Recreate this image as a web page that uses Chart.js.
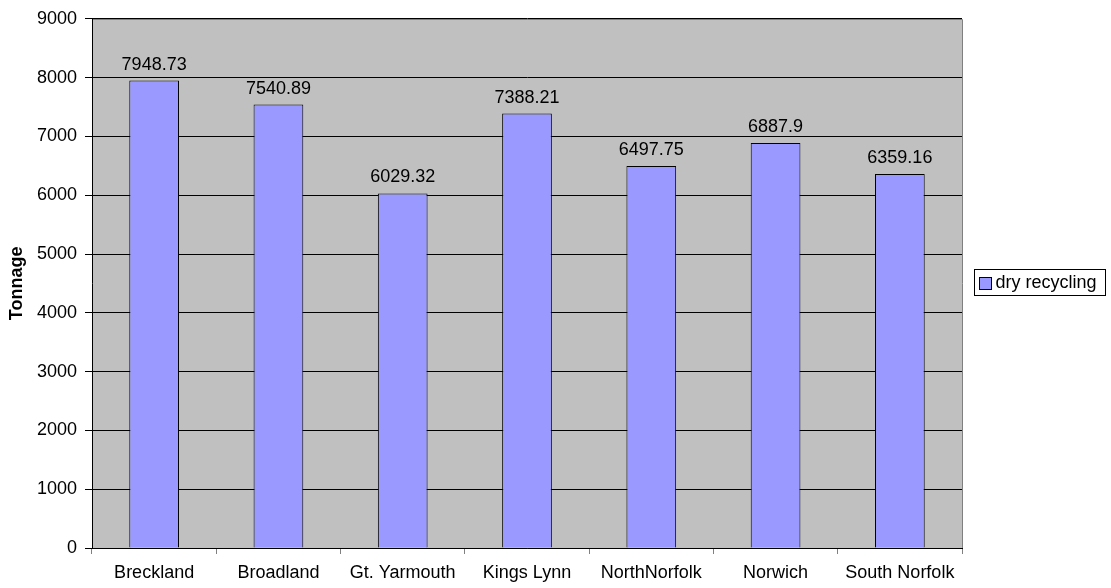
<!DOCTYPE html>
<html>
<head>
<meta charset="utf-8">
<title>Dry recycling by district</title>
<script src="https://cdn.jsdelivr.net/npm/chart.js@4/dist/chart.umd.min.js"></script>
<style>
    html, body { margin: 0; padding: 0; background: #fff; }
    canvas { display: block; }
</style>
</head>
<body>
<canvas id="recyclingChart" width="1111" height="588"></canvas>
<script>
const districts = ["Breckland", "Broadland", "Gt. Yarmouth", "Kings Lynn", "NorthNorfolk", "Norwich", "South Norfolk"];
const dryRecycling = [7948.73, 7540.89, 6029.32, 7388.21, 6497.75, 6887.9, 6359.16];
const seriesName = "dry recycling";
const yAxisTitle = "Tonnage";
const yMin = 0;
const yMax = 9000;
const yStep = 1000;

Chart.defaults.font.family = "'Liberation Sans', Arial, sans-serif";
Chart.defaults.font.size = 18;
Chart.defaults.color = '#000';

// grey plot area with a grey frame on top and right
const plotArea = {
    id: 'plotArea',
    beforeDraw(chart) {
        const {ctx, chartArea: a} = chart;
        ctx.save();
        ctx.fillStyle = '#c0c0c0';
        ctx.fillRect(a.left, a.top, a.right - a.left, a.bottom - a.top);
        ctx.restore();
    },
    afterDraw(chart) {
        const {ctx, chartArea: a} = chart;
        ctx.save();
        ctx.strokeStyle = '#808080';
        ctx.lineWidth = 1;
        ctx.beginPath();
        ctx.moveTo(a.left + 1, Math.round(a.top) + 0.5);
        ctx.lineTo(Math.round(a.right) + 0.5, Math.round(a.top) + 0.5);
        ctx.lineTo(Math.round(a.right) + 0.5, a.bottom);
        ctx.stroke();
        ctx.restore();
    }
};

// value printed above each bar
const barValues = {
    id: 'barValues',
    afterDatasetsDraw(chart) {
        const {ctx} = chart;
        const meta = chart.getDatasetMeta(0);
        ctx.save();
        ctx.font = "18px 'Liberation Sans', Arial, sans-serif";
        ctx.fillStyle = '#000';
        ctx.textAlign = 'center';
        ctx.textBaseline = 'alphabetic';
        meta.data.forEach((bar, i) => {
            ctx.fillText(String(dryRecycling[i]), bar.x, bar.y - 11);
        });
        ctx.restore();
    }
};

// boxed legend on the right
const boxLegend = {
    id: 'boxLegend',
    afterDraw(chart) {
        const {ctx} = chart;
        const x = 974.5, y = 269.5, w = 131, h = 26;
        ctx.save();
        ctx.fillStyle = '#fff';
        ctx.fillRect(x, y, w, h);
        ctx.strokeStyle = '#000';
        ctx.lineWidth = 1;
        ctx.strokeRect(x, y, w, h);
        ctx.fillStyle = '#9999ff';
        ctx.fillRect(x + 5, y + 8, 12, 12);
        ctx.strokeRect(x + 5, y + 8, 12, 12);
        ctx.font = "18px 'Liberation Sans', Arial, sans-serif";
        ctx.fillStyle = '#000';
        ctx.textBaseline = 'middle';
        ctx.fillText(seriesName, x + 21, y + h / 2 + 1);
        ctx.restore();
    }
};

const canvas = document.getElementById('recyclingChart');
const ctx = canvas.getContext('2d');
new Chart(ctx, {
    type: 'bar',
    data: {
        labels: districts,
        datasets: [{
            label: seriesName,
            data: dryRecycling,
            backgroundColor: '#9999ff',
            borderColor: '#000',
            borderWidth: 1,
            barPercentage: 0.4,
            categoryPercentage: 1.0
        }]
    },
    options: {
        responsive: false,
        animation: false,
        layout: {
            padding: {top: 16, right: 149, left: 0, bottom: 0}
        },
        plugins: {
            legend: {
                display: false
            },
            tooltip: {
                enabled: false
            }
        },
        scales: {
            x: {
                afterFit(scale) { scale.height = 40; },
                grid: {
                    offset: true,
                    drawOnChartArea: false,
                    color: '#808080',
                    tickLength: 6
                },
                border: {
                    color: '#000'
                },
                ticks: {
                    padding: 8,
                    maxRotation: 0,
                    autoSkip: false
                }
            },
            y: {
                min: yMin,
                max: yMax,
                afterFit(scale) { scale.width = 92; },
                grid: {
                    color: '#000',
                    tickLength: 7
                },
                border: {
                    color: '#000'
                },
                ticks: {
                    stepSize: yStep,
                    padding: 8,
                    callback: (value) => String(value)
                },
                title: {
                    display: true,
                    text: yAxisTitle,
                    font: {weight: 'bold', size: 18},
                    padding: {top: 6, bottom: 0}
                }
            }
        }
    },
    plugins: [plotArea, barValues, boxLegend]
});
</script>
</body>
</html>
